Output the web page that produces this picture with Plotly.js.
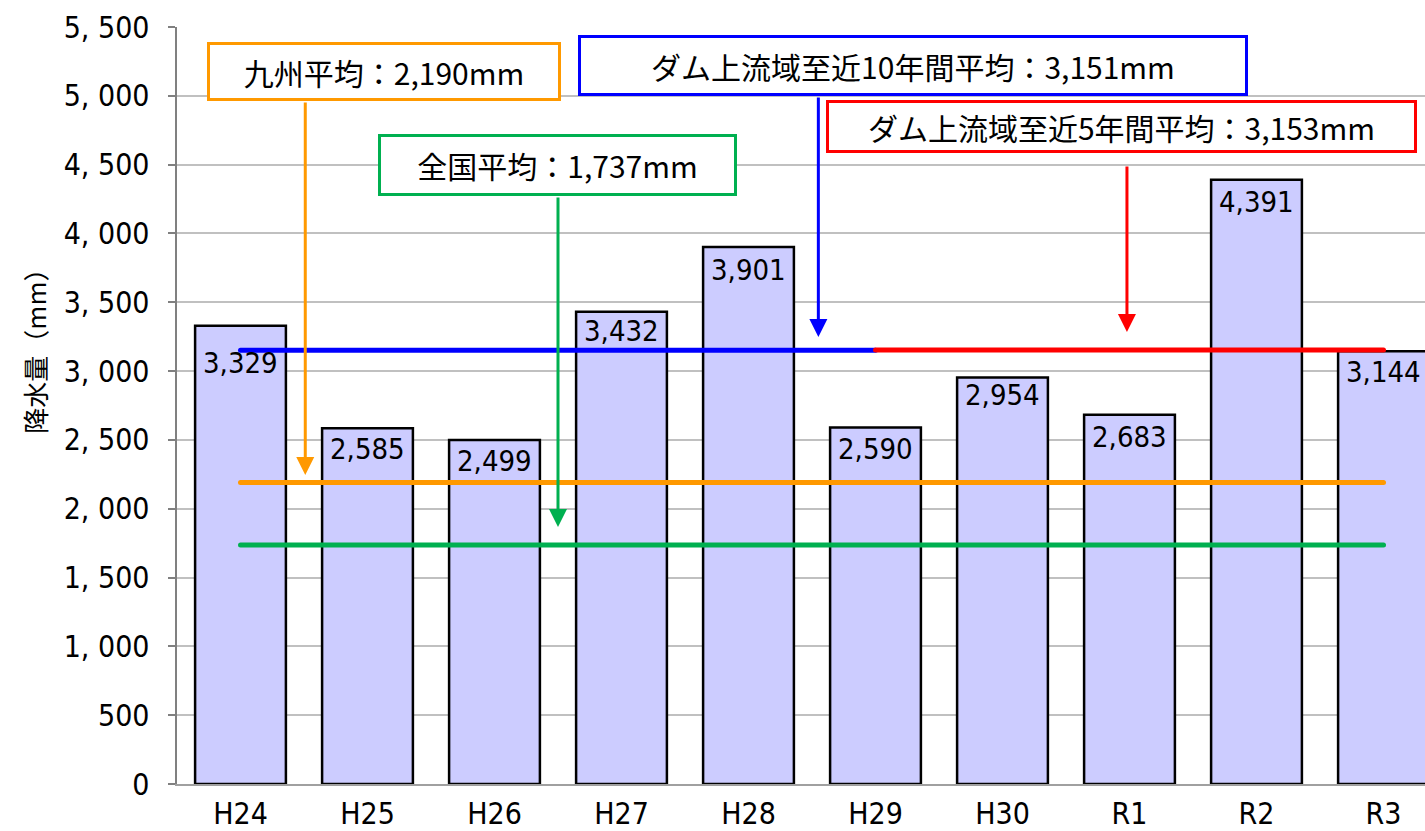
<!DOCTYPE html>
<html>
<head>
<meta charset="utf-8">
<script src="https://cdn.plot.ly/plotly-3.0.1.min.js"></script>
<style>
  html, body { margin: 0; padding: 0; background: #fff; overflow: hidden; }
  #chart { width: 1450px; height: 831px; }
  .scatterlayer path.js-line { stroke-linecap: round; }
</style>
</head>
<body>
<div id="chart"></div>
<script>
// 年度別 降水量（mm）
const years = ['H24', 'H25', 'H26', 'H27', 'H28', 'H29', 'H30', 'R1', 'R2', 'R3'];
const rainfall = [3329, 2585, 2499, 3432, 3901, 2590, 2954, 2683, 4391, 3144];

// 比較用の平均値（mm）
const kyushuAvg = 2190;
const nationalAvg = 1737;
const dam10yrAvg = 3151;
const dam5yrAvg = 3153;

const avgLabels = [
  '九州平均：2,190mm',
  '全国平均：1,737mm',
  'ダム上流域至近10年間平均：3,151mm',
  'ダム上流域至近5年間平均：3,153mm'
];

const yTickVals = [0, 500, 1000, 1500, 2000, 2500, 3000, 3500, 4000, 4500, 5000, 5500];
const yTickText = ['0', '500', '1, 000', '1, 500', '2, 000', '2, 500', '3, 000', '3, 500',
                   '4, 000', '4, 500', '5, 000', '5, 500'];

const narrow = 'DejaVu Sans Condensed, Liberation Sans Narrow, Arial Narrow, sans-serif';
const jp = 'Noto Sans CJK JP, sans-serif';

const fmt = v => v.toLocaleString('en-US');

const bars = {
  type: 'bar',
  x: years,
  y: rainfall,
  marker: { color: '#CCCCFF', line: { color: '#000000', width: 2.5 } },
  hoverinfo: 'x+y',
  showlegend: false
};

function avgLine(x0, x1, val, color) {
  return {
    type: 'scatter', mode: 'lines',
    x: [x0, x1], y: [val, val],
    line: { color: color, width: 5 },
    hoverinfo: 'y', showlegend: false
  };
}

const traces = [
  bars,
  avgLine(years[0], years[years.length - 1], kyushuAvg, '#FF9900'),
  avgLine(years[0], years[years.length - 1], nationalAvg, '#00B050'),
  avgLine(years[0], years[5], dam10yrAvg, '#0000FF'),
  avgLine(years[5], years[years.length - 1], dam5yrAvg, '#FF0000')
];

// value labels inside the top of each bar
const labelShift = [-37, -21, -21, -19, -23, -21, -18, -22, -22, -21];
const annotations = rainfall.map((v, i) => ({
  x: years[i], y: v, xref: 'x', yref: 'y',
  text: fmt(v), showarrow: false,
  yanchor: 'middle', yshift: labelShift[i],
  font: { family: narrow, size: 29, color: '#000' }
}));

// callout boxes
const boxes = [
  { text: avgLabels[0], color: '#FF9900', x: 0.163, y: 0.941, w: 348, h: 53 },
  { text: avgLabels[1], color: '#00B050', x: 0.2996, y: 0.8177, w: 353, h: 56 },
  { text: avgLabels[2], color: '#0000FF', x: 0.5795, y: 0.9491, w: 664, h: 55 },
  { text: avgLabels[3], color: '#FF0000', x: 0.7437, y: 0.8685, w: 585, h: 47 }
];
boxes.forEach(b => annotations.push({
  xref: 'paper', yref: 'paper', x: b.x, y: b.y,
  xanchor: 'center', yanchor: 'middle',
  text: b.text, showarrow: false,
  width: b.w, height: b.h, align: 'center', valign: 'middle',
  bgcolor: '#FFFFFF', bordercolor: b.color, borderwidth: 3, borderpad: 0,
  font: { family: jp, size: 30, color: '#000' }
}));

// arrows from the callouts down toward their lines
const arrows = [
  { x: 0.51, tip: 2245, tail: 4962, color: '#FF9900' },
  { x: 2.50, tip: 1867, tail: 4272, color: '#00B050' },
  { x: 4.55, tip: 3248, tail: 4999, color: '#0000FF' },
  { x: 6.98, tip: 3284, tail: 4497, color: '#FF0000' }
];
arrows.forEach(a => annotations.push({
  xref: 'x', yref: 'y', axref: 'x', ayref: 'y',
  x: a.x, y: a.tip, ax: a.x, ay: a.tail,
  text: '', showarrow: true,
  arrowhead: 2, arrowsize: 1.2, arrowwidth: 3, arrowcolor: a.color
}));

// y-axis title
annotations.push({
  xref: 'paper', yref: 'paper', x: -0.112, y: 0.58,
  text: '降水量（mm）', textangle: -90, showarrow: false,
  xanchor: 'center', yanchor: 'middle',
  font: { family: jp, size: 26, color: '#000' }
});

const layout = {
  width: 1450, height: 831,
  margin: { l: 177, r: 3, t: 27, b: 47, pad: 0 },
  paper_bgcolor: '#FFFFFF', plot_bgcolor: '#FFFFFF',
  bargap: 0.285,
  xaxis: {
    type: 'category',
    categoryorder: 'array', categoryarray: years,
    range: [-0.5, years.length - 0.5],
    showgrid: false, zeroline: false,
    showline: true, linecolor: '#A0A0A0', linewidth: 2,
    ticks: '', ticklabelstandoff: 2,
    tickfont: { family: narrow, size: 30, color: '#000' }
  },
  yaxis: {
    range: [0, 5500],
    tickmode: 'array', tickvals: yTickVals, ticktext: yTickText,
    showgrid: true, gridcolor: '#C0C0C0', gridwidth: 2,
    zeroline: false,
    showline: true, linecolor: '#808080', linewidth: 2.5,
    ticks: 'outside', ticklen: 7, tickwidth: 2, tickcolor: '#808080',
    ticklabelstandoff: 12,
    tickfont: { family: narrow, size: 30, color: '#000' }
  },
  annotations: annotations
};

Plotly.newPlot('chart', traces, layout, { displayModeBar: false, staticPlot: true });
</script>
</body>
</html>
